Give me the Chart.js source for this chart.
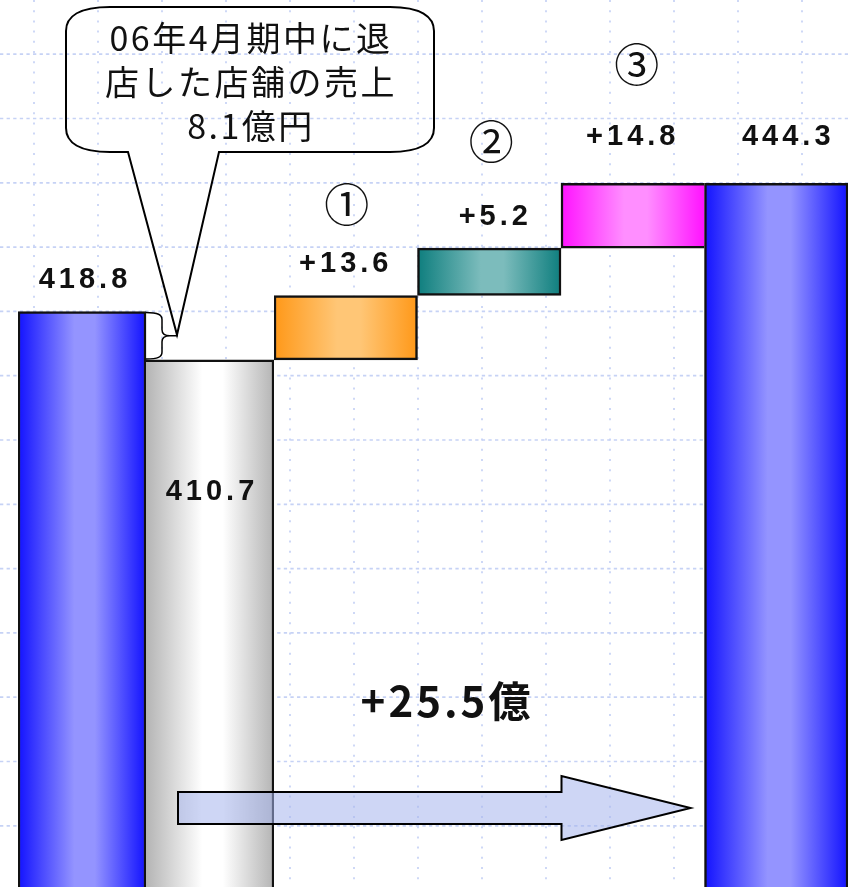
<!DOCTYPE html>
<html lang="ja">
<head>
<meta charset="utf-8">
<title>売上増減ブリッジ</title>
<script src="https://cdn.jsdelivr.net/npm/chart.js@4.4.1/dist/chart.umd.min.js"></script>
<style>
    html, body { margin: 0; padding: 0; background: #fff; overflow: hidden; }
    #wrap { width: 848px; height: 887px; }
</style>
</head>
<body>
<div id="wrap"><canvas id="bridge" width="848" height="887"></canvas></div>
<script>
// bridge chart: last year's sales -> after closed stores -> three drivers -> this year's sales
// the slide is not drawn to scale, so bar levels are read off the picture, labels are the real figures

// ---- data ----
const startCats   = ['前期', '退店後'];
const startLevels = [418.8, 409.2];
const startLabels = ['418.8', '410.7'];

const stepCats   = ['①', '②', '③', '当期'];
const stepLevels = [[409.2, 422.0], [422.0, 431.4], [431.4, 444.3], 444.3];
const stepLabels = ['+13.6', '+5.2', '+14.8', '444.3'];
const stepMarks  = ['①', '②', '③', ''];

const calloutLines = ['06年4月期中に退', '店した店舗の売上', '8.1億円'];
const totalChange  = '+25.5億';

// ---- styles ----
const SHADES = {
    blue:    ['#1212ff', '#9494ff'],
    gray:    ['#b4b4b4', '#ffffff'],
    orange:  ['#ff9818', '#ffc676'],
    teal:    ['#0e7e7e', '#7cbcbc'],
    magenta: ['#ff12ff', '#ff8eff'],
};
const startShades = ['blue', 'gray'];
const stepShades  = ['orange', 'teal', 'magenta', 'blue'];

// outline per bar; where two bars touch only one of them draws the shared edge
const W = 2.5;
const startEdges = [
    { top: W, left: W, right: W, bottom: 0 },
    { top: W, left: 0, right: W, bottom: 0 },
];
const stepEdges = [
    { top: W, left: W, right: W, bottom: W },
    { top: W, left: W, right: W, bottom: W },
    { top: W, left: W, right: 0, bottom: W },
    { top: W, left: W, right: W, bottom: 0 },
];

// label baseline offset from the bar top, and small x nudges
const labelDy = [-24, 140, -23, -23, -38, -38];
const labelDx = [1, 0, -2, 4, -2, 10];
const markDy  = [0, 0, -91, -106, -118, 0];
const markDx  = [0, 0, 1, 2, 4, 0];

const NUM_FONT = 'bold 29px "Liberation Sans", Arial, sans-serif';
const JP_FONT  = '"Noto Sans CJK JP", "Noto Sans", sans-serif';

// horizontal gradient across each bar, dark edges and a light middle
function barFill(shades) {
    return function (ctx) {
        const [edge, mid] = SHADES[shades[ctx.dataIndex] || shades[0]];
        if (ctx.type !== 'data') return edge;
        const chart = ctx.chart;
        const meta  = chart.getDatasetMeta(ctx.datasetIndex);
        const xs    = chart.scales[meta.xAxisID];
        if (!xs || !chart.chartArea) return edge;
        const half = xs.width / xs.getLabels().length / 2;
        const cx   = xs.getPixelForValue(ctx.dataIndex);
        const g = chart.ctx.createLinearGradient(cx - half, 0, cx + half, 0);
        g.addColorStop(0, edge);
        g.addColorStop(0.44, mid);
        g.addColorStop(0.6, mid);
        g.addColorStop(1, edge);
        return g;
    };
}

function barEdges(list) {
    return (ctx) => list[ctx.dataIndex] || W;
}

// ---- dotted slide grid behind everything ----
const paperGrid = {
    id: 'paperGrid',
    beforeDraw(chart) {
        const { ctx, width, height } = chart;
        ctx.save();
        ctx.fillStyle = '#fff';
        ctx.fillRect(0, 0, width, height);
        ctx.strokeStyle = '#c6d2f5';
        ctx.lineWidth = 1.7;
        ctx.setLineDash([3.3, 3.3]);
        for (let y = 54.2; y < height; y += 64.3) {
            ctx.beginPath();
            ctx.moveTo(0, y);
            ctx.lineTo(width, y);
            ctx.stroke();
        }
        ctx.setLineDash([2, 8.2]);
        for (let x = 34; x < width; x += 64) {
            ctx.beginPath();
            ctx.moveTo(x, 0);
            ctx.lineTo(x, height);
            ctx.stroke();
        }
        ctx.restore();
    }
};

// ---- value labels, circled numbers, callout, brace and arrow ----
const barNotes = {
    id: 'barNotes',
    afterDatasetsDraw(chart) {
        const ctx   = chart.ctx;
        const bars  = chart.getDatasetMeta(0).data.concat(chart.getDatasetMeta(1).data);
        const texts = startLabels.concat(stepLabels);
        const marks = ['', ''].concat(stepMarks);

        ctx.save();
        ctx.fillStyle = '#111';
        ctx.textAlign = 'center';
        ctx.textBaseline = 'alphabetic';

        bars.forEach((el, i) => {
            const top = Math.min(el.y, el.base);
            ctx.font = NUM_FONT;
            ctx.letterSpacing = '4px';
            ctx.fillText(texts[i], el.x + labelDx[i] + 2, top + labelDy[i]);
            ctx.letterSpacing = '0px';
            if (marks[i]) {
                ctx.font = '45px ' + JP_FONT;
                ctx.textBaseline = 'middle';
                ctx.fillText(marks[i], el.x + markDx[i], top + markDy[i]);
                ctx.textBaseline = 'alphabetic';
            }
        });

        // brace between the first two bar tops
        const b0 = bars[0], b1 = bars[1];
        const bx = b0.x + b0.width / 2;
        const t0 = b0.y, t1 = b1.y, tm = (t0 + t1) / 2;
        ctx.strokeStyle = '#000';
        ctx.lineWidth = 1.5;
        ctx.beginPath();
        ctx.moveTo(bx, t0 + 1);
        ctx.bezierCurveTo(bx + 12, t0 + 1, bx + 16, t0 + 3, bx + 16, t0 + 8);
        ctx.lineTo(bx + 16, tm - 6);
        ctx.quadraticCurveTo(bx + 16, tm, bx + 24, tm);
        ctx.moveTo(bx + 24, tm);
        ctx.quadraticCurveTo(bx + 16, tm, bx + 16, tm + 6);
        ctx.lineTo(bx + 16, t1 - 8);
        ctx.bezierCurveTo(bx + 16, t1 - 3, bx + 12, t1 - 1, bx, t1 - 1);
        ctx.moveTo(bx + 24, tm);
        ctx.lineTo(bx + 32, tm);
        ctx.stroke();

        // speech balloon pointing at the brace
        const L = 66, R = 434, T = 7, B = 152, rx = 44, ry = 24;
        ctx.lineWidth = 2;
        ctx.beginPath();
        ctx.moveTo(128, B);
        ctx.lineTo(bx + 31, tm - 1);
        ctx.lineTo(219, B);
        ctx.lineTo(R - rx, B);
        ctx.bezierCurveTo(R - rx * 0.3, B, R, B - ry * 0.4, R, B - ry);
        ctx.lineTo(R, T + ry);
        ctx.bezierCurveTo(R, T + ry * 0.4, R - rx * 0.3, T, R - rx, T);
        ctx.lineTo(L + rx, T);
        ctx.bezierCurveTo(L + rx * 0.3, T, L, T + ry * 0.4, L, T + ry);
        ctx.lineTo(L, B - ry);
        ctx.bezierCurveTo(L, B - ry * 0.4, L + rx * 0.3, B, L + rx, B);
        ctx.closePath();
        ctx.stroke();

        ctx.fillStyle = '#111';
        ctx.font = '34px ' + JP_FONT;
        ctx.letterSpacing = '2.5px';
        ctx.textBaseline = 'middle';
        calloutLines.forEach((line, k) => {
            ctx.fillText(line, (L + R) / 2 + 1, 38 + k * 44);
        });

        // growth arrow from the closed-store bar to this year's bar
        const ax0 = b1.x - 32, ax1 = bars[5].x - bars[5].width / 2 - 14;
        const ay = 808, half = 16, head = 32, hx = ax1 - 129;
        ctx.beginPath();
        ctx.moveTo(ax0, ay - half);
        ctx.lineTo(hx, ay - half);
        ctx.lineTo(hx, ay - head);
        ctx.lineTo(ax1, ay);
        ctx.lineTo(hx, ay + head);
        ctx.lineTo(hx, ay + half);
        ctx.lineTo(ax0, ay + half);
        ctx.closePath();
        ctx.fillStyle = 'rgba(165, 180, 236, 0.55)';
        ctx.fill();
        ctx.strokeStyle = '#000';
        ctx.lineWidth = 2;
        ctx.stroke();

        ctx.fillStyle = '#111';
        ctx.font = 'bold 42px ' + JP_FONT;
        ctx.letterSpacing = '3px';
        ctx.textBaseline = 'middle';
        ctx.fillText(totalChange, 447, 701);

        ctx.restore();
    }
};

new Chart(document.getElementById('bridge'), {
    type: 'bar',
    data: {
        datasets: [
            {
                label: '売上',
                data: startLevels,
                xAxisID: 'xa',
                yAxisID: 'y',
                grouped: false,
                backgroundColor: barFill(startShades),
                borderColor: '#111',
                borderWidth: barEdges(startEdges),
                borderSkipped: false,
                categoryPercentage: 1,
                barPercentage: 1,
            },
            {
                label: '増減',
                data: stepLevels,
                xAxisID: 'xb',
                yAxisID: 'y',
                grouped: false,
                backgroundColor: barFill(stepShades),
                borderColor: '#111',
                borderWidth: barEdges(stepEdges),
                borderSkipped: false,
                categoryPercentage: 1,
                barPercentage: 1,
            },
        ],
    },
    options: {
        responsive: false,
        animation: false,
        events: [],
        layout: { padding: { left: 18, right: 0, top: 0, bottom: 0 } },
        scales: {
            // two x axes stacked side by side so the first two bars can be narrower
            xa: {
                axis: 'x', type: 'category', labels: startCats, offset: true,
                position: 'bottom', stack: 'cats', stackWeight: 256, display: false,
            },
            xb: {
                axis: 'x', type: 'category', labels: stepCats, offset: true,
                position: 'bottom', stack: 'cats', stackWeight: 574, display: false,
            },
            y: { type: 'linear', min: 304.5, max: 480.7, display: false },
        },
        plugins: {
            legend:  { display: false },
            tooltip: { enabled: false },
        },
    },
    plugins: [paperGrid, barNotes],
});
</script>
</body>
</html>
